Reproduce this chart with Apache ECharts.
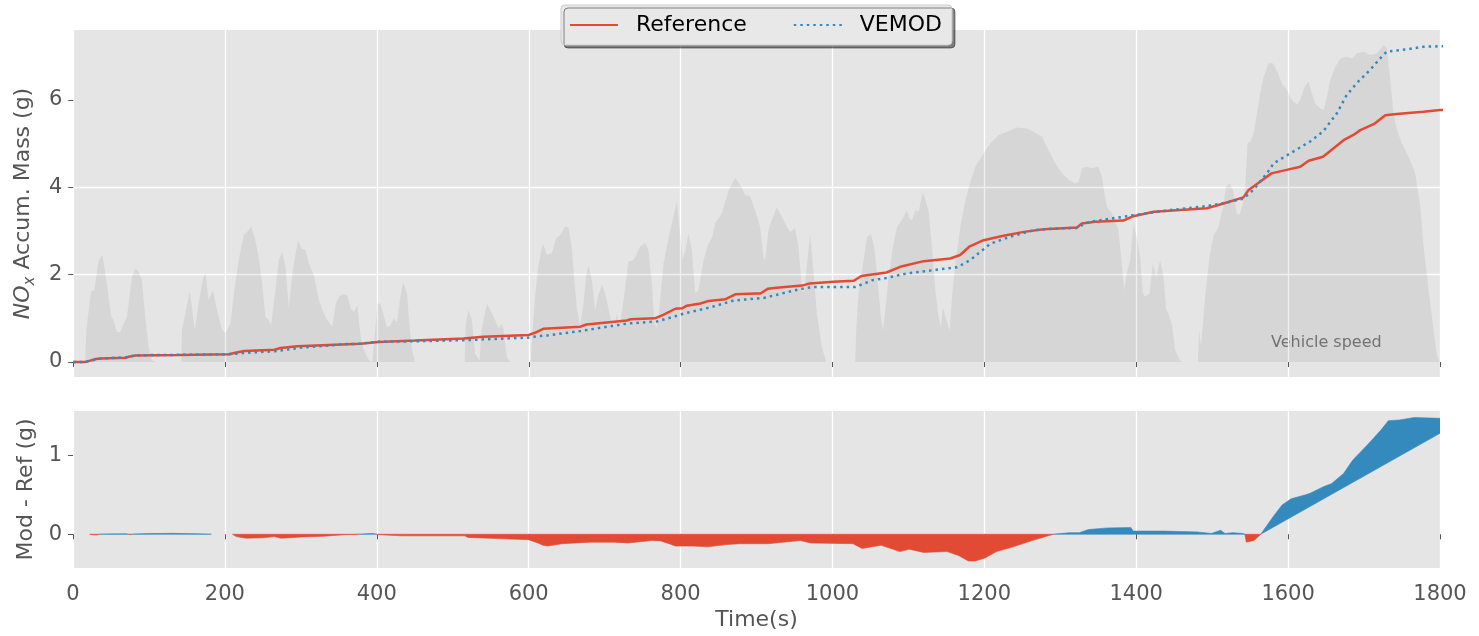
<!DOCTYPE html>
<html>
<head>
<meta charset="utf-8">
<script src="https://cdn.jsdelivr.net/npm/echarts@6/dist/echarts.min.js"></script>
<style>
  html, body { margin: 0; padding: 0; background: #fff; }
  #chart { width: 1479px; height: 636px; }
</style>
</head>
<body>
<div id="chart"></div>
<script>
// Accumulated NOx mass (g), measured reference
const refTime = [0, 15, 20, 30, 36, 70, 73, 82, 140, 205, 215, 225, 265, 273, 295, 378, 402, 450, 514, 540, 600, 608, 619, 668, 676, 729, 734, 766, 777, 793, 802, 808, 826, 837, 859, 872, 898, 905, 915, 926, 960, 970, 1001, 1028, 1038, 1071, 1089, 1120, 1155, 1168, 1180, 1199, 1225, 1252, 1278, 1322, 1328, 1346, 1383, 1396, 1423, 1493, 1515, 1541, 1548, 1563, 1578, 1598, 1616, 1627, 1646, 1673, 1686, 1695, 1714, 1728, 1743, 1778, 1800, 1835];
const refMass = [0, 0, 0.02, 0.07, 0.08, 0.10, 0.12, 0.15, 0.16, 0.18, 0.22, 0.25, 0.28, 0.32, 0.36, 0.42, 0.46, 0.49, 0.54, 0.58, 0.62, 0.67, 0.76, 0.81, 0.86, 0.95, 0.98, 1.00, 1.08, 1.22, 1.23, 1.29, 1.34, 1.40, 1.44, 1.55, 1.57, 1.57, 1.68, 1.70, 1.75, 1.80, 1.84, 1.86, 1.97, 2.05, 2.18, 2.31, 2.37, 2.45, 2.64, 2.79, 2.89, 2.98, 3.04, 3.08, 3.17, 3.21, 3.24, 3.34, 3.44, 3.52, 3.63, 3.77, 3.94, 4.13, 4.32, 4.40, 4.47, 4.61, 4.70, 5.08, 5.20, 5.31, 5.46, 5.65, 5.68, 5.73, 5.77, 5.79];

// Accumulated NOx mass (g), VEMOD model
const modTime = [0, 15, 36, 70, 82, 140, 205, 215, 225, 265, 275, 300, 360, 378, 400, 450, 514, 600, 611, 625, 668, 729, 769, 795, 804, 839, 870, 898, 910, 957, 975, 1030, 1054, 1067, 1098, 1164, 1181, 1208, 1234, 1265, 1296, 1324, 1331, 1346, 1396, 1445, 1493, 1524, 1541, 1554, 1572, 1581, 1603, 1629, 1646, 1664, 1677, 1690, 1708, 1721, 1730, 1756, 1778, 1800, 1835];
const modMass = [0, 0, 0.08, 0.11, 0.155, 0.165, 0.18, 0.19, 0.21, 0.245, 0.27, 0.33, 0.41, 0.42, 0.465, 0.475, 0.50, 0.56, 0.59, 0.61, 0.71, 0.88, 0.93, 1.06, 1.11, 1.25, 1.41, 1.45, 1.47, 1.67, 1.72, 1.72, 1.88, 1.91, 2.03, 2.17, 2.33, 2.71, 2.87, 3.02, 3.06, 3.07, 3.17, 3.23, 3.36, 3.48, 3.57, 3.67, 3.74, 3.94, 4.32, 4.55, 4.78, 5.05, 5.28, 5.69, 6.11, 6.38, 6.69, 6.95, 7.11, 7.16, 7.22, 7.23, 7.25];

// Model minus reference (g)
const diffTime = [0, 22, 25, 30, 35, 45, 70, 73, 75, 78, 82, 100, 130, 150, 175, 182, 210, 215, 228, 250, 265, 274, 302, 330, 358, 377, 385, 395, 400, 402, 433, 516, 520, 560, 600, 612, 619, 625, 644, 681, 712, 731, 762, 774, 785, 793, 817, 836, 861, 878, 915, 958, 971, 1027, 1039, 1064, 1089, 1101, 1120, 1151, 1166, 1179, 1188, 1201, 1216, 1238, 1263, 1291, 1312, 1325, 1337, 1362, 1393, 1396, 1437, 1480, 1499, 1511, 1517, 1527, 1541, 1543, 1545, 1555, 1564, 1580, 1592, 1604, 1623, 1629, 1648, 1657, 1673, 1685, 1704, 1722, 1732, 1747, 1766, 1800, 1835];
const diffMass = [0, 0, -0.006, -0.01, 0, 0.004, 0.005, 0, -0.006, 0, 0.004, 0.008, 0.012, 0.008, 0.003, 0, 0, -0.03, -0.05, -0.045, -0.03, -0.05, -0.035, -0.025, -0.005, 0, 0.005, 0.01, 0, -0.005, -0.02, -0.02, -0.04, -0.055, -0.07, -0.11, -0.14, -0.15, -0.12, -0.10, -0.10, -0.11, -0.08, -0.085, -0.12, -0.15, -0.15, -0.16, -0.13, -0.12, -0.12, -0.08, -0.11, -0.12, -0.18, -0.14, -0.22, -0.19, -0.23, -0.22, -0.27, -0.34, -0.34, -0.30, -0.22, -0.16, -0.08, 0, 0.02, 0.02, 0.06, 0.08, 0.085, 0.04, 0.04, 0.03, 0.01, 0.05, 0.01, 0.02, 0.01, 0, -0.10, -0.08, 0, 0.22, 0.37, 0.45, 0.50, 0.52, 0.61, 0.64, 0.77, 0.94, 1.13, 1.32, 1.44, 1.45, 1.48, 1.47, 1.47];

// Vehicle speed (km/h)
const speedTime = [0, 15.8, 17.1, 23.3, 27.7, 33.4, 38.6, 44.3, 50, 53.1, 57.5, 61.9, 65.4, 70.7, 77.3, 81.7, 86, 90.4, 94.8, 99.2, 103.6, 108,
  142.2, 143.1, 147.5, 153.2, 156.3, 159.8, 165.1, 169.5, 173.9, 178.3, 184, 189.3, 195.9, 200.3, 206.9, 212.2, 217.9, 224.5, 231.1, 234.2, 239.9, 244.3, 248.7, 253.1, 257.5, 260.6, 266.3, 270.7, 275.1, 279.5, 283.9, 288.3, 292.7, 296.3, 300.2, 305.9, 310.3, 316.9, 323.5, 330.1, 334.5, 341.2, 345.6, 350, 354.4, 360.9, 365.3, 369.7, 374.1, 378.5, 382.9, 389.5, 393.9,
  396.3, 397.7, 400.8, 404.3, 408.7, 413.1, 417.5, 421.9, 426.4, 430.8, 434.3, 439.6, 442, 446, 450,
  515.3, 517, 520.6, 525, 529.4, 535.1, 536.8, 537.7, 541.2, 544.7, 549.1, 555.7, 560.1, 564.5, 566.7, 571.1, 575.5,
  602.7, 604, 608.4, 612.8, 618.5, 623.8, 630.3, 636, 641.3, 647.9, 652.2, 656.6, 659.7, 663.2, 667.6, 672, 675.5, 678.6, 683, 687.4, 690.9, 696.1, 700.5, 705.8, 709.3, 712.4, 715.9, 719.4, 724.7, 731.3, 737.8, 746.6, 753.2, 757.6, 762, 765, 767.7, 770.8, 777.4, 782.6, 788.3, 794.9, 799.3, 802.8, 805.9, 810.3, 814.7, 819.1, 823.5, 830.1, 836.7, 841.1, 845.5, 854.3, 863.1, 871.9, 878.4, 885, 891.6, 898, 904.6, 909, 911.2, 915.6, 920, 926.6, 933.2, 939.7, 944.1, 950.7, 955.1, 959.5, 962.5, 966.9, 970.5, 974, 979.3, 985.9, 991.6,
  1029.8, 1031.1, 1034.2, 1040.8, 1045.2, 1050.5, 1054.9, 1059.3, 1063.7, 1066.3, 1069.4, 1073.8, 1079.5, 1084.8, 1091.3, 1097.9, 1101.4, 1104.5, 1108.9, 1113.3, 1119, 1123.4, 1126.5, 1130.9, 1135.3, 1139.7, 1142.7, 1145.4, 1149.8, 1154.2, 1157.3, 1161.7, 1168.3, 1174.9, 1181.4, 1188, 1194.6, 1201.2, 1207.8, 1218.7, 1229.7, 1242.9, 1256, 1264.8, 1275.8, 1284.6, 1293.4, 1302.2, 1311, 1319.7, 1324.1, 1328.5, 1335.1, 1341.7, 1350.2, 1354.6, 1361.1, 1367.7, 1369.9, 1376.5, 1380.9, 1384, 1387.5, 1391.9, 1396.3, 1400.7, 1405.1, 1408.6, 1411.7, 1417.4, 1421.8, 1426.2, 1431.5, 1435.9, 1439.4, 1442.5, 1446.9, 1451.3, 1457, 1460,
  1481, 1482.8, 1485.4, 1490.7, 1496.4, 1501.7, 1508.3, 1514, 1518.4, 1522.8, 1527.2, 1532.4, 1536, 1540.4, 1543.4, 1546.5, 1550, 1554.4, 1558.8, 1563.2, 1567.6, 1574.2, 1579.9, 1585.2, 1591.8, 1598.4, 1604.9, 1611.5, 1615.9, 1621.6, 1626.9, 1631.3, 1635.7, 1642.3, 1646.7, 1651.1, 1655.5, 1662.1, 1668.7, 1677.5, 1684.1, 1690.6, 1699.4, 1708.2, 1717, 1725.7, 1730.1, 1734.5, 1738.9, 1743.3, 1749.9, 1758.7, 1767.4, 1774, 1778.4, 1785, 1791.6, 1796, 1799.5];
const speedKmh = [0, 0, 13.1, 29, 29.7, 42.1, 44.1, 32.4, 18.7, 17.3, 12.4, 12.4, 15.3, 18.7, 35.1, 38.5, 37.3, 33.8, 18.7, 6.3, 0.7, 0,
  0, 13.1, 20, 29, 22.9, 13.1, 24.1, 32.4, 37.3, 25.6, 29.7, 21.4, 13.1, 12.1, 15.8, 29.7, 42.1, 52.4, 54.4, 56, 50.2, 43.2, 32.4, 18.7, 17.3, 15.3, 29.7, 42.1, 45.5, 39.2, 22.1, 35.8, 44.6, 50.2, 46.8, 46.1, 40.7, 35.8, 25.6, 20, 17.3, 14.6, 24.1, 26.8, 27.9, 27.5, 22.1, 20.7, 23.4, 10.3, 4.9, 0.7, 0,
  0, 13.9, 24.1, 24.1, 19.3, 14.4, 15.1, 17.8, 16.6, 26.8, 32.9, 28.3, 18, 5.4, 0,
  0, 15.8, 21.4, 17.3, 3.4, 0.7, 0, 13.1, 18.7, 24.1, 21.4, 17.3, 13.9, 15.8, 13.1, 2, 0,
  0, 9, 27.9, 40.1, 49, 44.3, 44.8, 51.1, 52.4, 56, 55.3, 47, 34.6, 22.1, 15.3, 24.1, 35.8, 40, 33.8, 21.4, 26.8, 32, 28.3, 20.7, 15.8, 14.4, 20, 14.4, 25.6, 41.4, 42.1, 47.5, 49.1, 46.1, 32.4, 17.3, 13.9, 18.7, 40.7, 49, 57.2, 66.2, 53.1, 42.1, 46.1, 53.1, 46.1, 28.3, 29.7, 42.1, 49, 51.1, 57.2, 61.4, 70.9, 75.8, 73.1, 68.9, 68.2, 62.6, 55.8, 43.4, 41.9, 54.4, 58.5, 63.9, 59.9, 55.8, 53.6, 55.1, 47.5, 31, 28.3, 41.9, 52.7, 40.7, 20.2, 6.3, 0,
  0, 13.1, 28.3, 41.9, 51.5, 52.7, 47.5, 33.7, 18.5, 13.1, 21.4, 35.1, 47.5, 55.8, 58.5, 62.6, 59.2, 58.5, 62.6, 61.9, 70.2, 65.3, 62.6, 47.5, 29.7, 18.5, 14.4, 22.7, 17.3, 13.1, 27, 40.7, 55.8, 66.8, 74.3, 80.5, 83.9, 87.3, 90.2, 93.6, 94.9, 96.7, 96.3, 94.9, 92.9, 87.3, 81.9, 77.8, 75.1, 73.6, 74.3, 79.9, 80.5, 79.9, 80.5, 76.5, 64.1, 61.4, 62.1, 54.4, 40.7, 29.7, 36.5, 41.9, 57.1, 51.5, 43.4, 28.3, 27, 28.3, 40.7, 35.1, 41.9, 35.1, 21.4, 20, 15.8, 4.9, 0.9, 0,
  0, 13.1, 6.8, 27, 43.4, 52.2, 55.8, 63.9, 72.2, 73.8, 70.9, 61.4, 60.7, 65.3, 72.2, 90.2, 90.9, 94.1, 102.4, 110.7, 117.5, 123.1, 123.1, 120.2, 114.8, 112.1, 108, 106, 108, 113.6, 115.6, 110.7, 106.6, 104.6, 103.9, 109.4, 116.3, 121.7, 125.1, 125.8, 125.1, 127.3, 128, 126.5, 127.3, 130.7, 129.2, 116.3, 102.4, 95.6, 90.2, 84.6, 77.8, 64.1, 47.5, 29.7, 13.1, 2.7, 0];

const RED = '#E24A33';
const BLUE = '#348ABD';
const FONT = '"DejaVu Sans", sans-serif';
const TICK_GREY = '#555555';

// mass axis range (g); speed axis shares the same zero, scaled by 18 km/h per g
const MASS_MIN = -0.343, MASS_MAX = 7.603, SPEED_SCALE = 18;

const zip = (xs, ys) => xs.map((x, i) => [x, ys[i]]);

// split the difference curve into same-sign runs, each closed as its own polygon
function signRuns(ts, vs) {
  const runs = [];
  let cur = null, lastZero = null;
  for (let i = 0; i < ts.length; i++) {
    const v = vs[i];
    const s = v > 0 ? 1 : (v < 0 ? -1 : 0);
    if (s === 0) {
      if (cur) { cur.pts.push([ts[i], v]); runs.push(cur); cur = null; }
      lastZero = [ts[i], 0];
      continue;
    }
    if (!cur || cur.sign !== s) {
      if (cur) runs.push(cur);
      cur = { sign: s, pts: lastZero ? [lastZero] : [] };
    }
    cur.pts.push([ts[i], v]);
    lastZero = null;
  }
  if (cur) runs.push(cur);
  return runs.filter(r => r.pts.length >= 2);
}
const diffRuns = signRuns(diffTime, diffMass);

const chart = echarts.init(document.getElementById('chart'), null, { renderer: 'canvas' });

const plainNumber = v => String(v);

const xCommon = {
  type: 'value', min: 0, max: 1800, interval: 200,
  axisLine: { show: false },
  axisTick: { show: true, length: 5, lineStyle: { color: TICK_GREY, width: 1 } },
  splitLine: { show: true, lineStyle: { color: '#ffffff', width: 1.3 } }
};
const yCommon = {
  type: 'value',
  axisLine: { show: false },
  axisLabel: { show: true, color: TICK_GREY, fontSize: 21, fontFamily: FONT, margin: 11, showMinLabel: false, showMaxLabel: false, formatter: plainNumber },
  splitLine: { show: true, showMinLine: false, showMaxLine: false, lineStyle: { color: '#ffffff', width: 1.3 } },
  nameLocation: 'middle',
  nameTextStyle: { color: TICK_GREY, fontSize: 22, fontFamily: FONT }
};

const option = {
  animation: false,
  backgroundColor: '#ffffff',
  textStyle: { fontFamily: FONT },
  grid: [
    { left: 73, right: 39, top: 30, height: 347, show: true, backgroundColor: '#E5E5E5', borderWidth: 0 },
    { left: 73, right: 39, top: 411, height: 157, show: true, backgroundColor: '#E5E5E5', borderWidth: 0 }
  ],
  legend: {
    data: ['Reference', 'VEMOD'],
    left: 561, top: 5,
    itemWidth: 48, itemHeight: 14, itemGap: 46,
    padding: [9, 10, 9, 8],
    backgroundColor: '#E8E8E8',
    borderColor: '#CCCCCC', borderWidth: 1, borderRadius: 4,
    shadowColor: 'rgba(0,0,0,0.45)', shadowOffsetX: 3, shadowOffsetY: 3, shadowBlur: 0,
    itemStyle: { opacity: 0, borderWidth: 0 },
    textStyle: { color: '#000000', fontSize: 22, fontFamily: FONT, padding: [0, 0, 0, 13] }
  },
  xAxis: [
    Object.assign({}, xCommon, { gridIndex: 0, axisLabel: { show: false } }),
    Object.assign({}, xCommon, {
      gridIndex: 1,
      axisLabel: { show: true, color: TICK_GREY, fontSize: 21, fontFamily: FONT, margin: 16, formatter: plainNumber },
      name: 'Time(s)', nameLocation: 'middle', nameGap: 41,
      nameTextStyle: { color: TICK_GREY, fontSize: 22, fontFamily: FONT }
    })
  ],
  yAxis: [
    Object.assign({}, yCommon, {
      gridIndex: 0, min: MASS_MIN, max: MASS_MAX, splitNumber: 4,
      axisTick: { show: true, length: 5, customValues: [0, 2, 4, 6], lineStyle: { color: TICK_GREY } },
      name: '{it|NO}{sub|x} Accum. Mass (g)', nameGap: 30,
      nameTextStyle: {
        color: TICK_GREY, fontSize: 22, fontFamily: FONT, lineHeight: 30,
        rich: {
          it: { fontStyle: 'italic', fontSize: 22, color: TICK_GREY, fontFamily: FONT, lineHeight: 30, verticalAlign: 'middle' },
          sub: { fontStyle: 'italic', fontSize: 15, color: TICK_GREY, fontFamily: FONT, lineHeight: 15, verticalAlign: 'bottom' }
        }
      }
    }),
    {
      type: 'value', gridIndex: 0, show: false,
      min: MASS_MIN * SPEED_SCALE, max: MASS_MAX * SPEED_SCALE,
      splitLine: { show: false }
    },
    Object.assign({}, yCommon, {
      gridIndex: 1, min: -0.428, max: 1.563, splitNumber: 2,
      axisTick: { show: true, length: 5, customValues: [0, 1], lineStyle: { color: TICK_GREY } },
      name: 'Mod - Ref (g)', nameGap: 32
    })
  ],
  graphic: [
    {
      type: 'text', left: 1271, top: 335, silent: true,
      style: { text: 'Vehicle speed', fill: '#7a7a7a', font: '16px "DejaVu Sans", sans-serif' }
    }
  ],
  series: [
    {
      name: 'Vehicle speed', type: 'line', xAxisIndex: 0, yAxisIndex: 1,
      data: zip(speedTime, speedKmh),
      symbol: 'none', showSymbol: false, silent: true, z: 1,
      lineStyle: { width: 0, opacity: 0 },
      areaStyle: { color: 'rgba(0,0,0,0.09)' }
    },
    {
      name: 'Reference', type: 'line', xAxisIndex: 0, yAxisIndex: 0,
      data: zip(refTime, refMass),
      symbol: 'none', showSymbol: false, z: 3,
      itemStyle: { color: RED },
      lineStyle: { color: RED, width: 2.5 }
    },
    {
      name: 'VEMOD', type: 'line', xAxisIndex: 0, yAxisIndex: 0,
      data: zip(modTime, modMass),
      symbol: 'none', showSymbol: false, z: 4,
      itemStyle: { color: BLUE },
      lineStyle: { color: BLUE, width: 2.5, type: [2.5, 4], cap: 'butt' }
    },
    {
      name: 'Mod - Ref', type: 'custom', xAxisIndex: 1, yAxisIndex: 2,
      clip: true, silent: true, z: 3,
      data: diffRuns.map((r, i) => [r.pts[0][0], r.pts[0][1], i]),
      renderItem: function (params, api) {
        const run = diffRuns[api.value(2)];
        const pts = run.pts.map(p => api.coord(p));
        return {
          type: 'polygon',
          shape: { points: pts },
          style: { fill: run.sign > 0 ? BLUE : RED, stroke: run.sign > 0 ? BLUE : RED, lineWidth: 0.6 }
        };
      }
    }
  ]
};

chart.setOption(option);
</script>
</body>
</html>
